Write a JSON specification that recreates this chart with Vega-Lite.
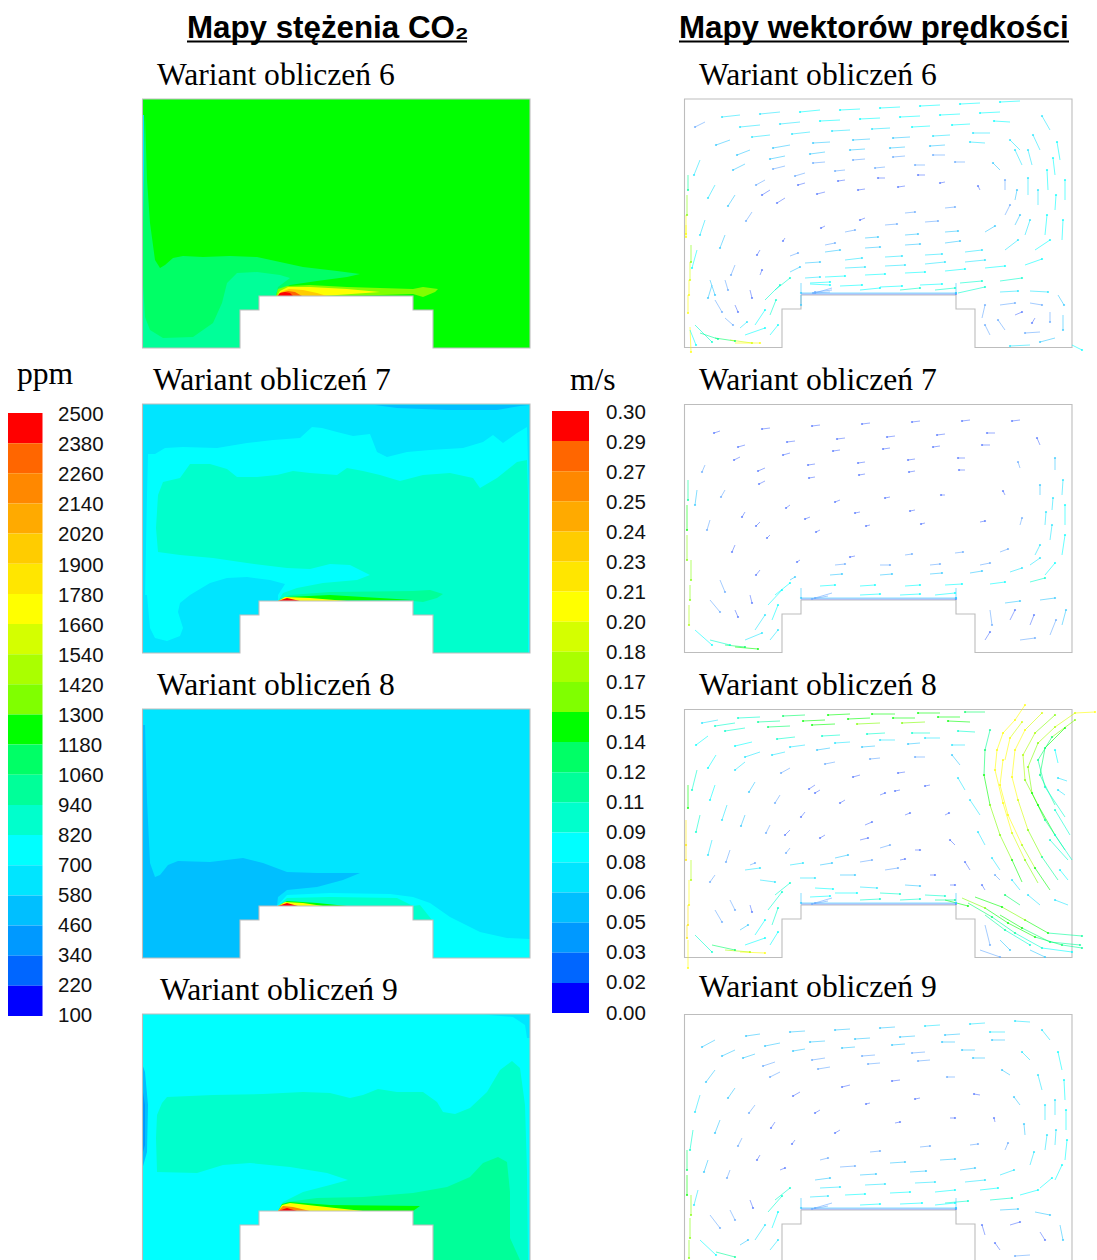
{
"$schema":"https://vega.github.io/schema/vega-lite/v6.json",
"width":1097,"height":1260,"autosize":"none","padding":0,"background":"white",
"config":{"view":{"stroke":null}},
"datasets":{
"polys":[
{"s":"6bg","ppm":1240,"x":[142.5,530,530,433,433,413,413,259,259,240,240,142.5],"y":[99,99,348,348,310,310,296,296,310,310,348,348]},
{"s":"6edge","ppm":640,"x":[142.5,144,145,146,142.5],"y":[115,115,180,250,250]},
{"s":"6a","ppm":1120,"x":[145,147,150,155,160,165,173,183,203,230,257,280,303,337,360,347,317,290,275,259,259,240,240,142.5,142.5],"y":[115,180,223,260,268,265,258,256,257,256,257,262,267,271,274,277,281,285,293,296,310,310,348,348,250]},
{"s":"6b","ppm":1000,"x":[142.5,145,150,163,193,213,222,227,237,257,280,290,278,276,259,259,240,240,142.5],"y":[277,317,330,338,337,323,303,283,273,272,275,278,287,296,296,310,310,348,348]},
{"s":"6c","ppm":1360,"x":[276,278,287,310,347,413,423,438,435,423,413,380,330],"y":[296,289,286,285,287,289,287,289,292,297,294,295,296]},
{"s":"6d","ppm":1720,"x":[277,280,288,310,347,380,337,317],"y":[296,291,287,287,289,292,295,296]},
{"s":"6e","ppm":1960,"x":[277,281,289,303,317,327],"y":[296,292,289,290,293,296]},
{"s":"6f","ppm":2320,"x":[277,280,288,295,302],"y":[296,293,291,292,296]},
{"s":"6g","ppm":2440,"x":[278,280,285,290,293],"y":[296,293,292,293,296]},
{"s":"7bg","ppm":640,"x":[142.5,530,530,433,433,413,413,259,259,240,240,142.5],"y":[404,404,653,653,615,615,601,601,615,615,653,653]},
{"s":"7top","ppm":520,"x":[375,397,447,497,520,530],"y":[405,408,410,410,406,405]},
{"s":"7a","ppm":760,"x":[144,147,148,155,165,183,217,247,273,300,312,322,337,353,370,377,387,407,430,463,483,493,503,517,527,529,529,433,433,413,413,259,259,240,240],"y":[653,495,454,454,448,447,448,443,440,438,427,428,432,436,434,452,457,452,450,448,442,435,443,433,427,495,653,653,615,615,601,601,615,615,653]},
{"s":"7b","ppm":880,"x":[527,517,507,497,480,473,450,423,400,380,363,347,337,310,293,277,257,237,227,210,190,180,163,158,156,158,180,213,247,287,310,330,350,370,357,323,297,283,278,413,413,433,433,528,528],"y":[460,462,470,478,488,478,473,475,481,475,471,468,475,473,471,475,477,477,469,464,464,478,482,495,528,552,555,558,563,568,569,564,565,575,580,583,588,593,601,601,615,615,653,653,495]},
{"s":"7c","ppm":640,"x":[278,278,285,270,247,227,210,190,180,178,183,180,167,155,150,147,144,144,240,240,259,259],"y":[601,595,584,580,577,578,583,595,603,612,628,636,641,638,628,595,595,653,653,615,615,601]},
{"s":"7d","ppm":1000,"x":[280,290,330,413,430,443,437,423,413],"y":[599,595,592,591,590,594,598,602,601]},
{"s":"7e","ppm":1240,"x":[278,287,330,413],"y":[601,597,595,600]},
{"s":"7f","ppm":1720,"x":[278,285,310,347],"y":[601,597,598,601]},
{"s":"7g","ppm":2440,"x":[278,287,300],"y":[601,598,601]},
{"s":"8bg","ppm":640,"x":[142.5,530,530,433,433,413,413,259,259,240,240,142.5],"y":[709,709,958,958,920,920,906,906,920,920,958,958]},
{"s":"8a","ppm":520,"x":[142.5,145,147,150,155,160,168,178,210,243,263,287,317,360,343,317,287,278,277,259,259,240,240,142.5],"y":[725,725,800,863,877,875,865,861,862,858,863,872,873,873,880,887,890,897,906,906,920,920,958,958]},
{"s":"8b","ppm":760,"x":[277,287,330,390,413,430,450,480,507,530,530,433,433,413,413],"y":[906,895,893,894,897,903,917,932,938,939,958,958,920,920,906]},
{"s":"8c","ppm":880,"x":[413,420,432,413],"y":[906,905,920,920]},
{"s":"8d","ppm":880,"x":[278,287,330,397,413],"y":[906,898,897,898,906]},
{"s":"8e","ppm":1240,"x":[278,287,317,347],"y":[906,901,903,906]},
{"s":"8f","ppm":1720,"x":[278,285,303,323],"y":[906,902,903,906]},
{"s":"8g","ppm":2440,"x":[278,287,298],"y":[906,903,906]},
{"s":"9bg","ppm":760,"x":[142.5,530,530,433,433,413,413,259,259,240,240,142.5],"y":[1014,1014,1263,1263,1225,1225,1211,1211,1225,1225,1263,1263]},
{"s":"9c","ppm":640,"x":[483,513,525,527,530,530],"y":[1014.5,1017,1025,1038,1038,1015]},
{"s":"9l","ppm":520,"x":[142.5,145,148,147,142.5],"y":[1065,1072,1105,1152,1168]},
{"s":"9m","ppm":400,"x":[143,145,145,143],"y":[1092,1105,1145,1152]},
{"s":"9a","ppm":880,"x":[167,213,263,303,330,350,363,378,397,423,437,443,455,470,487,500,512,520,525,527,528,433,433,413,413,278,283,303,330,348,327,290,250,223,197,157,156,157,162],"y":[1097,1095,1094,1092,1093,1098,1095,1089,1092,1092,1102,1112,1114,1108,1092,1070,1061,1068,1105,1172,1260,1260,1225,1225,1211,1211,1202,1192,1185,1180,1173,1167,1163,1165,1173,1172,1138,1115,1103]},
{"s":"9b","ppm":1000,"x":[278,287,317,363,413,447,470,483,498,507,510,510,520,433,433,413,413],"y":[1211,1202,1198,1197,1193,1187,1177,1163,1157,1162,1192,1238,1260,1260,1225,1225,1211]},
{"s":"9d","ppm":1240,"x":[278,282,290,330,420,413],"y":[1211,1204,1202,1205,1206,1211]},
{"s":"9e","ppm":1720,"x":[278,282,290,317,363],"y":[1211,1205,1203,1206,1211]},
{"s":"9f","ppm":2200,"x":[278,283,293,310],"y":[1211,1206,1207,1211]},
{"s":"9g","ppm":2440,"x":[278,287,297],"y":[1211,1208,1211]}
],
"outlines":[
{"s":"c6","x":[142.5,530,530,433,433,413,413,259,259,240,240,142.5],"y":[99,99,348,348,310,310,296,296,310,310,348,348]},
{"s":"c7","x":[142.5,530,530,433,433,413,413,259,259,240,240,142.5],"y":[404,404,653,653,615,615,601,601,615,615,653,653]},
{"s":"c8","x":[142.5,530,530,433,433,413,413,259,259,240,240,142.5],"y":[709,709,958,958,920,920,906,906,920,920,958,958]},
{"s":"c9","x":[142.5,530,530,433,433,413,413,259,259,240,240,142.5],"y":[1014,1014,1263,1263,1225,1225,1211,1211,1225,1225,1263,1263]},
{"s":"v6","x":[684.5,1072,1072,975,975,956,956,801,801,782,782,684.5],"y":[99,99,347.5,347.5,309,309,295,295,309,309,347.5,347.5]},
{"s":"v7","x":[684.5,1072,1072,975,975,956,956,801,801,782,782,684.5],"y":[404.5,404.5,652.5,652.5,614,614,600,600,614,614,652.5,652.5]},
{"s":"v8","x":[684.5,1072,1072,975,975,956,956,801,801,782,782,684.5],"y":[709.5,709.5,957.5,957.5,919,919,905,905,919,919,957.5,957.5]},
{"s":"v9","x":[684.5,1072,1072,975,975,956,956,801,801,782,782,684.5],"y":[1014.5,1014.5,1263,1263,1224,1224,1210,1210,1224,1224,1263,1263]}
],
"bar1":[
{"lo":2380,"y":413,"y2":443.2},{"lo":2260,"y":443.2,"y2":473.3},{"lo":2140,"y":473.3,"y2":503.5},{"lo":2020,"y":503.5,"y2":533.6},{"lo":1900,"y":533.6,"y2":563.8},{"lo":1780,"y":563.8,"y2":593.9},{"lo":1660,"y":593.9,"y2":624},{"lo":1540,"y":624,"y2":654.2},{"lo":1420,"y":654.2,"y2":684.3},{"lo":1300,"y":684.3,"y2":714.5},{"lo":1180,"y":714.5,"y2":744.6},{"lo":1060,"y":744.6,"y2":774.8},{"lo":940,"y":774.8,"y2":805},{"lo":820,"y":805,"y2":835.1},{"lo":700,"y":835.1,"y2":865.3},{"lo":580,"y":865.3,"y2":895.4},{"lo":460,"y":895.4,"y2":925.5},{"lo":340,"y":925.5,"y2":955.7},{"lo":220,"y":955.7,"y2":985.8},{"lo":100,"y":985.8,"y2":1016}
],
"bar2":[
{"lo":2380,"y":411,"y2":441.1},{"lo":2260,"y":441.1,"y2":471.2},{"lo":2140,"y":471.2,"y2":501.3},{"lo":2020,"y":501.3,"y2":531.4},{"lo":1900,"y":531.4,"y2":561.5},{"lo":1780,"y":561.5,"y2":591.6},{"lo":1660,"y":591.6,"y2":621.7},{"lo":1540,"y":621.7,"y2":651.8},{"lo":1420,"y":651.8,"y2":681.9},{"lo":1300,"y":681.9,"y2":712},{"lo":1180,"y":712,"y2":742.1},{"lo":1060,"y":742.1,"y2":772.2},{"lo":940,"y":772.2,"y2":802.3},{"lo":820,"y":802.3,"y2":832.4},{"lo":700,"y":832.4,"y2":862.5},{"lo":580,"y":862.5,"y2":892.6},{"lo":460,"y":892.6,"y2":922.7},{"lo":340,"y":922.7,"y2":952.8},{"lo":220,"y":952.8,"y2":982.9},{"lo":100,"y":982.9,"y2":1013}
],
"vec":[
{"x":1000,"y":112,"x2":980,"y2":113,"s":0.08},{"x":960,"y":114,"x2":940,"y2":115,"s":0.08},{"x":920,"y":116,"x2":900,"y2":117,"s":0.08},{"x":880,"y":118,"x2":860,"y2":119,"s":0.08},{"x":840,"y":120,"x2":820,"y2":121,"s":0.08},{"x":800,"y":122,"x2":780,"y2":124,"s":0.06},{"x":760,"y":125,"x2":740,"y2":127,"s":0.06},
{"x":990,"y":133,"x2":973,"y2":133,"s":0.06},{"x":950,"y":135,"x2":933,"y2":136,"s":0.06},{"x":910,"y":137,"x2":893,"y2":138,"s":0.05},{"x":870,"y":139,"x2":853,"y2":140,"s":0.05},{"x":830,"y":142,"x2":813,"y2":143,"s":0.05},{"x":790,"y":145,"x2":773,"y2":148,"s":0.05},{"x":750,"y":150,"x2":737,"y2":155,"s":0.05},
{"x":945,"y":155,"x2":933,"y2":155,"s":0.03},{"x":905,"y":156,"x2":893,"y2":157,"s":0.03},{"x":865,"y":159,"x2":853,"y2":160,"s":0.03},{"x":825,"y":162,"x2":813,"y2":163,"s":0.03},{"x":785,"y":166,"x2":773,"y2":169,"s":0.03},
{"x":925,"y":175,"x2":918,"y2":175,"s":0.02},{"x":885,"y":178,"x2":878,"y2":178,"s":0.02},{"x":845,"y":180,"x2":838,"y2":181,"s":0.02},{"x":805,"y":183,"x2":798,"y2":185,"s":0.02},{"x":770,"y":190,"x2":762,"y2":195,"s":0.02},
{"x":925,"y":222,"x2":938,"y2":221,"s":0.03},{"x":885,"y":225,"x2":897,"y2":224,"s":0.03},{"x":845,"y":232,"x2":855,"y2":230,"s":0.03},{"x":945,"y":243,"x2":960,"y2":241,"s":0.05},{"x":905,"y":245,"x2":920,"y2":244,"s":0.05},{"x":865,"y":248,"x2":880,"y2":247,"s":0.05},{"x":825,"y":252,"x2":840,"y2":250,"s":0.05},
{"x":965,"y":262,"x2":985,"y2":260,"s":0.06},{"x":925,"y":264,"x2":945,"y2":262,"s":0.06},{"x":885,"y":266,"x2":905,"y2":265,"s":0.06},{"x":845,"y":268,"x2":865,"y2":267,"s":0.06},
{"x":1035,"y":250,"x2":1050,"y2":240,"s":0.08},{"x":1055,"y":210,"x2":1056,"y2":195,"s":0.08},{"x":1055,"y":175,"x2":1053,"y2":158,"s":0.08},{"x":1038,"y":205,"x2":1038,"y2":190,"s":0.06},{"x":1032,"y":165,"x2":1028,"y2":150,"s":0.06},{"x":1015,"y":200,"x2":1017,"y2":190,"s":0.05},{"x":1015,"y":225,"x2":1020,"y2":215,"s":0.05},
{"x":995,"y":433,"x2":987,"y2":433,"s":0.02},{"x":945,"y":434,"x2":937,"y2":435,"s":0.02},{"x":895,"y":436,"x2":887,"y2":437,"s":0.02},{"x":845,"y":438,"x2":837,"y2":439,"s":0.02},{"x":795,"y":441,"x2":787,"y2":442,"s":0.02},{"x":745,"y":445,"x2":738,"y2":447,"s":0.02},{"x":965,"y":458,"x2":958,"y2":458,"s":0.02},{"x":915,"y":459,"x2":908,"y2":460,"s":0.02},{"x":865,"y":462,"x2":858,"y2":463,"s":0.02},{"x":815,"y":464,"x2":808,"y2":465,"s":0.02},{"x":765,"y":468,"x2":758,"y2":471,"s":0.02},{"x":915,"y":510,"x2":910,"y2":511,"s":0.02},{"x":860,"y":512,"x2":855,"y2":513,"s":0.02},{"x":810,"y":517,"x2":805,"y2":519,"s":0.02},{"x":760,"y":522,"x2":756,"y2":526,"s":0.02},{"x":980,"y":565,"x2":990,"y2":563,"s":0.03},{"x":930,"y":565,"x2":940,"y2":564,"s":0.03},{"x":880,"y":565,"x2":890,"y2":565,"s":0.03},{"x":835,"y":565,"x2":845,"y2":564,"s":0.03},{"x":1030,"y":565,"x2":1040,"y2":558,"s":0.06},{"x":1052,"y":510,"x2":1053,"y2":498,"s":0.06},{"x":1050,"y":540,"x2":1052,"y2":525,"s":0.06},
{"x":1005,"y":1032,"x2":990,"y2":1032,"s":0.06},{"x":960,"y":1034,"x2":945,"y2":1035,"s":0.05},{"x":915,"y":1036,"x2":900,"y2":1037,"s":0.05},{"x":870,"y":1038,"x2":855,"y2":1039,"s":0.05},{"x":825,"y":1041,"x2":810,"y2":1042,"s":0.05},{"x":780,"y":1043,"x2":765,"y2":1046,"s":0.05},{"x":735,"y":1050,"x2":722,"y2":1056,"s":0.05},{"x":975,"y":1050,"x2":962,"y2":1050,"s":0.05},{"x":925,"y":1052,"x2":912,"y2":1053,"s":0.03},{"x":875,"y":1055,"x2":862,"y2":1056,"s":0.03},{"x":825,"y":1058,"x2":812,"y2":1060,"s":0.03},{"x":775,"y":1062,"x2":763,"y2":1066,"s":0.03},{"x":940,"y":1160,"x2":955,"y2":1159,"s":0.05},{"x":890,"y":1163,"x2":905,"y2":1162,"s":0.05},{"x":840,"y":1167,"x2":855,"y2":1166,"s":0.03},{"x":965,"y":1182,"x2":985,"y2":1180,"s":0.06},{"x":915,"y":1183,"x2":935,"y2":1182,"s":0.06},{"x":865,"y":1185,"x2":885,"y2":1184,"s":0.06},{"x":820,"y":1188,"x2":840,"y2":1187,"s":0.06},{"x":1055,"y":1115,"x2":1055,"y2":1100,"s":0.06},{"x":1055,"y":1145,"x2":1056,"y2":1130,"s":0.06},
{"x":1050,"y":890,"x2":1035,"y2":868,"s":0.14},{"x":1035,"y":868,"x2":1022,"y2":845,"s":0.17},{"x":1022,"y":845,"x2":1008,"y2":815,"s":0.2},{"x":1008,"y":815,"x2":1000,"y2":785,"s":0.2},{"x":1000,"y":785,"x2":1003,"y2":760,"s":0.2},{"x":1005,"y":760,"x2":1010,"y2":738,"s":0.2},{"x":1010,"y":738,"x2":1022,"y2":722,"s":0.18},
{"x":1072,"y":860,"x2":1055,"y2":835,"s":0.09},{"x":1055,"y":835,"x2":1038,"y2":805,"s":0.14},{"x":1038,"y":805,"x2":1025,"y2":780,"s":0.15},{"x":1025,"y":780,"x2":1023,"y2":755,"s":0.17},{"x":1023,"y":755,"x2":1035,"y2":733,"s":0.17},{"x":1035,"y":733,"x2":1055,"y2":715,"s":0.15},
{"x":1070,"y":835,"x2":1055,"y2":810,"s":0.09},{"x":1055,"y":805,"x2":1040,"y2":775,"s":0.11},{"x":1040,"y":775,"x2":1045,"y2":748,"s":0.12},{"x":1045,"y":748,"x2":1065,"y2":728,"s":0.14},
{"x":1022,"y":882,"x2":1012,"y2":860,"s":0.14},{"x":1012,"y":860,"x2":1000,"y2":835,"s":0.15},{"x":1000,"y":835,"x2":990,"y2":805,"s":0.15},{"x":990,"y":805,"x2":984,"y2":775,"s":0.14},{"x":984,"y":775,"x2":985,"y2":750,"s":0.12},{"x":985,"y":750,"x2":990,"y2":730,"s":0.11},
{"x":1020,"y":905,"x2":1005,"y2":895,"s":0.12},{"x":945,"y":900,"x2":968,"y2":906,"s":0.14},{"x":1000,"y":915,"x2":1022,"y2":928,"s":0.14},{"x":1022,"y":928,"x2":1050,"y2":942,"s":0.12},{"x":1050,"y":942,"x2":1080,"y2":945,"s":0.11},{"x":985,"y":915,"x2":1005,"y2":930,"s":0.11},{"x":1005,"y":930,"x2":1030,"y2":945,"s":0.09},
{"x":960,"y":717,"x2":938,"y2":717,"s":0.14},{"x":915,"y":718,"x2":893,"y2":718,"s":0.14},{"x":870,"y":718,"x2":848,"y2":719,"s":0.14},{"x":825,"y":720,"x2":803,"y2":721,"s":0.14},{"x":780,"y":721,"x2":758,"y2":722,"s":0.11},{"x":735,"y":723,"x2":715,"y2":726,"s":0.09},{"x":940,"y":738,"x2":925,"y2":738,"s":0.06},{"x":895,"y":740,"x2":880,"y2":740,"s":0.06},{"x":850,"y":742,"x2":835,"y2":743,"s":0.06},{"x":805,"y":745,"x2":790,"y2":747,"s":0.06},{"x":760,"y":752,"x2":745,"y2":757,"s":0.06},
{"x":900,"y":790,"x2":895,"y2":791,"s":0.02},{"x":820,"y":790,"x2":815,"y2":793,"s":0.02},{"x":790,"y":830,"x2":785,"y2":835,"s":0.02},{"x":860,"y":840,"x2":868,"y2":838,"s":0.02},{"x":900,"y":860,"x2":905,"y2":859,"s":0.02},{"x":860,"y":862,"x2":872,"y2":860,"s":0.03},{"x":820,"y":865,"x2":832,"y2":863,"s":0.05},
{"x":1020,"y":101,"x2":1000,"y2":102,"s":0.08},{"x":980,"y":103,"x2":960,"y2":104,"s":0.08},{"x":940,"y":105,"x2":920,"y2":106,"s":0.08},{"x":900,"y":107,"x2":880,"y2":108,"s":0.08},{"x":860,"y":109,"x2":840,"y2":110,"s":0.08},{"x":820,"y":110,"x2":800,"y2":112,"s":0.08},{"x":780,"y":112,"x2":760,"y2":114,"s":0.06},{"x":740,"y":115,"x2":722,"y2":117,"s":0.06},{"x":705,"y":122,"x2":695,"y2":127,"s":0.03},
{"x":1010,"y":122,"x2":994,"y2":121,"s":0.08},{"x":970,"y":124,"x2":952,"y2":125,"s":0.08},{"x":930,"y":126,"x2":912,"y2":127,"s":0.08},{"x":890,"y":128,"x2":872,"y2":129,"s":0.06},{"x":850,"y":130,"x2":832,"y2":131,"s":0.06},{"x":810,"y":132,"x2":792,"y2":134,"s":0.06},{"x":770,"y":135,"x2":752,"y2":137,"s":0.06},{"x":730,"y":140,"x2":716,"y2":145,"s":0.05},{"x":700,"y":160,"x2":694,"y2":175,"s":0.06},
{"x":1020,"y":150,"x2":1010,"y2":140,"s":0.06},{"x":985,"y":143,"x2":970,"y2":142,"s":0.06},{"x":945,"y":145,"x2":930,"y2":146,"s":0.05},{"x":905,"y":147,"x2":890,"y2":148,"s":0.05},{"x":865,"y":149,"x2":850,"y2":150,"s":0.05},{"x":825,"y":152,"x2":810,"y2":154,"s":0.05},{"x":785,"y":156,"x2":770,"y2":159,"s":0.05},{"x":745,"y":164,"x2":733,"y2":170,"s":0.05},{"x":715,"y":185,"x2":708,"y2":198,"s":0.06},
{"x":1000,"y":170,"x2":993,"y2":163,"s":0.05},{"x":965,"y":162,"x2":955,"y2":162,"s":0.03},{"x":925,"y":165,"x2":915,"y2":165,"s":0.03},{"x":885,"y":167,"x2":875,"y2":168,"s":0.03},{"x":845,"y":170,"x2":835,"y2":171,"s":0.03},{"x":805,"y":173,"x2":795,"y2":176,"s":0.03},{"x":765,"y":180,"x2":756,"y2":185,"s":0.03},{"x":735,"y":195,"x2":728,"y2":206,"s":0.05},{"x":705,"y":220,"x2":700,"y2":235,"s":0.06},
{"x":980,"y":190,"x2":978,"y2":186,"s":0.02},{"x":945,"y":182,"x2":940,"y2":183,"s":0.02},{"x":905,"y":186,"x2":898,"y2":187,"s":0.02},{"x":865,"y":189,"x2":858,"y2":190,"s":0.02},{"x":825,"y":192,"x2":817,"y2":194,"s":0.02},{"x":785,"y":198,"x2":777,"y2":203,"s":0.02},{"x":752,"y":212,"x2":746,"y2":221,"s":0.03},{"x":725,"y":235,"x2":720,"y2":248,"s":0.05},{"x":697,"y":250,"x2":692,"y2":268,"s":0.08},
{"x":945,"y":208,"x2":955,"y2":207,"s":0.03},{"x":905,"y":213,"x2":915,"y2":212,"s":0.03},{"x":865,"y":218,"x2":860,"y2":220,"s":0.02},{"x":825,"y":226,"x2":821,"y2":228,"s":0.02},{"x":785,"y":238,"x2":783,"y2":241,"s":0.02},{"x":760,"y":250,"x2":757,"y2":255,"s":0.02},{"x":735,"y":265,"x2":731,"y2":275,"s":0.03},{"x":712,"y":285,"x2":708,"y2":298,"s":0.05},
{"x":985,"y":232,"x2":995,"y2":226,"s":0.05},{"x":945,"y":232,"x2":958,"y2":231,"s":0.05},{"x":905,"y":235,"x2":918,"y2":234,"s":0.05},{"x":865,"y":238,"x2":878,"y2":237,"s":0.05},{"x":825,"y":245,"x2":835,"y2":243,"s":0.03},{"x":790,"y":256,"x2":798,"y2":253,"s":0.03},{"x":760,"y":275,"x2":762,"y2":270,"s":0.02},
{"x":1005,"y":250,"x2":1018,"y2":240,"s":0.06},{"x":965,"y":252,"x2":982,"y2":250,"s":0.06},{"x":925,"y":255,"x2":942,"y2":254,"s":0.06},{"x":885,"y":257,"x2":902,"y2":256,"s":0.06},{"x":845,"y":260,"x2":862,"y2":258,"s":0.06},{"x":805,"y":263,"x2":820,"y2":262,"s":0.05},{"x":790,"y":272,"x2":800,"y2":267,"s":0.05},
{"x":1025,"y":265,"x2":1042,"y2":259,"s":0.08},{"x":985,"y":268,"x2":1005,"y2":266,"s":0.08},{"x":945,"y":271,"x2":965,"y2":269,"s":0.08},{"x":905,"y":273,"x2":925,"y2":272,"s":0.08},{"x":865,"y":275,"x2":885,"y2":274,"s":0.08},{"x":825,"y":277,"x2":845,"y2":276,"s":0.08},{"x":805,"y":278,"x2":820,"y2":277,"s":0.06},
{"x":1000,"y":281,"x2":1022,"y2":278,"s":0.09},{"x":960,"y":283,"x2":982,"y2":281,"s":0.09},{"x":920,"y":285,"x2":942,"y2":284,"s":0.08},{"x":880,"y":287,"x2":902,"y2":286,"s":0.08},{"x":840,"y":286,"x2":862,"y2":285,"s":0.08},{"x":810,"y":284,"x2":830,"y2":285,"s":0.08},{"x":958,"y":293,"x2":985,"y2":287,"s":0.09},
{"x":1062,"y":240,"x2":1063,"y2":220,"s":0.08},{"x":1065,"y":200,"x2":1065,"y2":180,"s":0.08},{"x":1060,"y":160,"x2":1057,"y2":142,"s":0.08},{"x":1050,"y":130,"x2":1042,"y2":116,"s":0.06},{"x":1045,"y":235,"x2":1047,"y2":215,"s":0.08},{"x":1048,"y":190,"x2":1047,"y2":170,"s":0.08},{"x":1040,"y":150,"x2":1033,"y2":135,"s":0.06},{"x":1025,"y":235,"x2":1030,"y2":220,"s":0.06},{"x":1028,"y":195,"x2":1028,"y2":178,"s":0.06},{"x":1022,"y":165,"x2":1015,"y2":150,"s":0.06},{"x":1005,"y":215,"x2":1010,"y2":205,"s":0.03},{"x":1005,"y":190,"x2":1005,"y2":180,"s":0.03},
{"x":688,"y":175,"x2":688,"y2":190,"s":0.11},{"x":687,"y":195,"x2":687,"y2":215,"s":0.15},{"x":686,"y":215,"x2":686,"y2":234,"s":0.2},{"x":686,"y":225,"x2":686,"y2":237,"s":0.2},{"x":691,"y":245,"x2":691,"y2":262,"s":0.15},{"x":690,"y":262,"x2":690,"y2":280,"s":0.18},{"x":689,"y":280,"x2":689,"y2":295,"s":0.2},{"x":688,"y":295,"x2":688,"y2":313,"s":0.2},{"x":690,"y":327,"x2":691,"y2":352,"s":0.2},{"x":690,"y":330,"x2":696,"y2":345,"s":0.08},
{"x":695,"y":325,"x2":712,"y2":342,"s":0.09},{"x":700,"y":333,"x2":718,"y2":339,"s":0.11},{"x":715,"y":338,"x2":735,"y2":341,"s":0.12},{"x":730,"y":340,"x2":752,"y2":343,"s":0.18},{"x":735,"y":343,"x2":760,"y2":343,"s":0.2},
{"x":775,"y":290,"x2":790,"y2":278,"s":0.09},{"x":765,"y":300,"x2":780,"y2":285,"s":0.09},{"x":770,"y":315,"x2":776,"y2":300,"s":0.09},{"x":755,"y":325,"x2":765,"y2":310,"s":0.08},{"x":740,"y":328,"x2":747,"y2":322,"s":0.06},{"x":770,"y":335,"x2":778,"y2":325,"s":0.08},{"x":745,"y":335,"x2":765,"y2":328,"s":0.08},{"x":725,"y":318,"x2":733,"y2":325,"s":0.03},{"x":715,"y":300,"x2":722,"y2":312,"s":0.03},{"x":710,"y":280,"x2":715,"y2":295,"s":0.05},{"x":725,"y":280,"x2":728,"y2":290,"s":0.03},{"x":750,"y":290,"x2":752,"y2":298,"s":0.02},{"x":735,"y":305,"x2":738,"y2":312,"s":0.02},
{"x":801,"y":294,"x2":956,"y2":294,"s":0.02},{"x":801,"y":293,"x2":956,"y2":293,"s":0.05},{"x":832,"y":288,"x2":815,"y2":293,"s":0.03},{"x":832,"y":290,"x2":815,"y2":292,"s":0.03},{"x":830,"y":292,"x2":813,"y2":293,"s":0.03},{"x":801,"y":283,"x2":801,"y2":293,"s":0.05},{"x":956,"y":283,"x2":956,"y2":293,"s":0.05},{"x":801,"y":295,"x2":801,"y2":305,"s":0.05},{"x":860,"y":290,"x2":880,"y2":288,"s":0.08},{"x":900,"y":290,"x2":920,"y2":288,"s":0.09},{"x":935,"y":290,"x2":955,"y2":288,"s":0.09},{"x":810,"y":283,"x2":830,"y2":282,"s":0.08},
{"x":1000,"y":292,"x2":1018,"y2":291,"s":0.06},{"x":1030,"y":291,"x2":1048,"y2":292,"s":0.06},{"x":1058,"y":295,"x2":1064,"y2":305,"s":0.05},{"x":1063,"y":315,"x2":1063,"y2":330,"s":0.05},{"x":1055,"y":338,"x2":1040,"y2":342,"s":0.05},{"x":1030,"y":345,"x2":1010,"y2":346,"s":0.06},{"x":990,"y":335,"x2":985,"y2":325,"s":0.03},{"x":982,"y":318,"x2":985,"y2":305,"s":0.03},{"x":1000,"y":305,"x2":1015,"y2":303,"s":0.03},{"x":1030,"y":303,"x2":1042,"y2":305,"s":0.03},{"x":1050,"y":312,"x2":1050,"y2":322,"s":0.03},{"x":1040,"y":332,"x2":1025,"y2":333,"s":0.03},{"x":1005,"y":330,"x2":998,"y2":320,"s":0.03},{"x":1015,"y":315,"x2":1022,"y2":312,"s":0.02},{"x":1035,"y":318,"x2":1032,"y2":323,"s":0.02},{"x":1072,"y":345,"x2":1082,"y2":350,"s":0.08},

{"x":1020,"y":420,"x2":1012,"y2":421,"s":0.02},{"x":970,"y":420,"x2":962,"y2":421,"s":0.02},{"x":920,"y":421,"x2":912,"y2":422,"s":0.02},{"x":870,"y":423,"x2":862,"y2":424,"s":0.02},{"x":820,"y":425,"x2":812,"y2":426,"s":0.02},{"x":770,"y":428,"x2":762,"y2":429,"s":0.02},{"x":720,"y":431,"x2":714,"y2":433,"s":0.02},
{"x":1040,"y":445,"x2":1037,"y2":438,"s":0.02},{"x":990,"y":445,"x2":982,"y2":445,"s":0.02},{"x":940,"y":446,"x2":933,"y2":447,"s":0.02},{"x":890,"y":448,"x2":883,"y2":449,"s":0.02},{"x":840,"y":450,"x2":833,"y2":451,"s":0.02},{"x":790,"y":453,"x2":783,"y2":455,"s":0.02},{"x":740,"y":457,"x2":734,"y2":460,"s":0.02},{"x":705,"y":465,"x2":702,"y2":472,"s":0.03},
{"x":1055,"y":470,"x2":1055,"y2":458,"s":0.05},{"x":1020,"y":468,"x2":1018,"y2":462,"s":0.03},{"x":965,"y":470,"x2":959,"y2":470,"s":0.02},{"x":915,"y":471,"x2":909,"y2":472,"s":0.02},{"x":865,"y":474,"x2":859,"y2":475,"s":0.02},{"x":815,"y":477,"x2":809,"y2":478,"s":0.02},{"x":765,"y":481,"x2":759,"y2":484,"s":0.02},{"x":725,"y":490,"x2":721,"y2":497,"s":0.03},{"x":697,"y":490,"x2":695,"y2":505,"s":0.05},
{"x":1062,"y":495,"x2":1063,"y2":480,"s":0.06},{"x":1040,"y":495,"x2":1040,"y2":485,"s":0.05},{"x":1005,"y":495,"x2":1003,"y2":491,"s":0.02},{"x":945,"y":495,"x2":941,"y2":495,"s":0.02},{"x":890,"y":497,"x2":885,"y2":498,"s":0.02},{"x":840,"y":500,"x2":835,"y2":502,"s":0.02},{"x":790,"y":505,"x2":786,"y2":508,"s":0.02},{"x":745,"y":512,"x2":742,"y2":517,"s":0.02},{"x":710,"y":520,"x2":707,"y2":530,"s":0.03},
{"x":1065,"y":525,"x2":1065,"y2":505,"s":0.08},{"x":1045,"y":525,"x2":1046,"y2":512,"s":0.06},{"x":1020,"y":525,"x2":1022,"y2":518,"s":0.03},{"x":980,"y":522,"x2":985,"y2":521,"s":0.02},{"x":925,"y":523,"x2":921,"y2":524,"s":0.02},{"x":870,"y":525,"x2":866,"y2":526,"s":0.02},{"x":820,"y":530,"x2":816,"y2":532,"s":0.02},{"x":770,"y":535,"x2":767,"y2":538,"s":0.02},{"x":735,"y":545,"x2":732,"y2":552,"s":0.02},
{"x":1062,"y":555,"x2":1065,"y2":535,"s":0.08},{"x":1035,"y":555,"x2":1040,"y2":545,"s":0.06},{"x":1000,"y":552,"x2":1008,"y2":549,"s":0.03},{"x":955,"y":553,"x2":963,"y2":552,"s":0.03},{"x":905,"y":555,"x2":912,"y2":554,"s":0.03},{"x":855,"y":556,"x2":850,"y2":557,"s":0.02},{"x":800,"y":560,"x2":797,"y2":562,"s":0.02},{"x":760,"y":570,"x2":756,"y2":575,"s":0.02},
{"x":1045,"y":575,"x2":1055,"y2":563,"s":0.08},{"x":1010,"y":572,"x2":1022,"y2":568,"s":0.06},{"x":970,"y":573,"x2":982,"y2":571,"s":0.05},{"x":930,"y":574,"x2":942,"y2":573,"s":0.05},{"x":880,"y":575,"x2":892,"y2":574,"s":0.05},{"x":830,"y":575,"x2":842,"y2":574,"s":0.05},{"x":790,"y":580,"x2":795,"y2":577,"s":0.05},
{"x":1030,"y":582,"x2":1045,"y2":578,"s":0.09},{"x":990,"y":584,"x2":1005,"y2":582,"s":0.08},{"x":945,"y":585,"x2":962,"y2":584,"s":0.08},{"x":905,"y":586,"x2":920,"y2":585,"s":0.08},{"x":860,"y":586,"x2":875,"y2":585,"s":0.08},{"x":820,"y":586,"x2":835,"y2":585,"s":0.08},
{"x":688,"y":480,"x2":688,"y2":500,"s":0.11},{"x":687,"y":505,"x2":687,"y2":530,"s":0.14},{"x":687,"y":535,"x2":687,"y2":560,"s":0.15},{"x":691,"y":560,"x2":691,"y2":580,"s":0.15},{"x":690,"y":585,"x2":690,"y2":600,"s":0.15},{"x":689,"y":605,"x2":689,"y2":625,"s":0.17},
{"x":695,"y":630,"x2":712,"y2":645,"s":0.08},{"x":710,"y":640,"x2":730,"y2":645,"s":0.09},{"x":725,"y":645,"x2":745,"y2":647,"s":0.12},{"x":735,"y":647,"x2":758,"y2":649,"s":0.14},
{"x":775,"y":595,"x2":790,"y2":583,"s":0.08},{"x":768,"y":605,"x2":782,"y2":590,"s":0.08},{"x":772,"y":620,"x2":778,"y2":605,"s":0.08},{"x":755,"y":630,"x2":765,"y2":615,"s":0.06},{"x":770,"y":640,"x2":778,"y2":630,"s":0.06},{"x":745,"y":640,"x2":762,"y2":633,"s":0.06},{"x":710,"y":600,"x2":720,"y2":612,"s":0.03},{"x":735,"y":610,"x2":738,"y2":617,"s":0.02},{"x":720,"y":580,"x2":725,"y2":592,"s":0.03},{"x":750,"y":595,"x2":752,"y2":603,"s":0.02},
{"x":801,"y":599,"x2":956,"y2":599,"s":0.02},{"x":801,"y":598,"x2":956,"y2":598,"s":0.05},{"x":832,"y":593,"x2":815,"y2":598,"s":0.03},{"x":828,"y":596,"x2":812,"y2":599,"s":0.03},{"x":860,"y":595,"x2":880,"y2":594,"s":0.08},{"x":900,"y":595,"x2":920,"y2":594,"s":0.08},{"x":935,"y":595,"x2":955,"y2":593,"s":0.08},{"x":801,"y":588,"x2":801,"y2":598,"s":0.05},{"x":956,"y":588,"x2":956,"y2":598,"s":0.05},
{"x":990,"y":610,"x2":992,"y2":625,"s":0.03},{"x":985,"y":640,"x2":990,"y2":632,"s":0.02},{"x":1010,"y":620,"x2":1015,"y2":610,"s":0.02},{"x":1030,"y":625,"x2":1034,"y2":615,"s":0.02},{"x":1050,"y":635,"x2":1056,"y2":620,"s":0.03},{"x":1062,"y":625,"x2":1066,"y2":610,"s":0.05},{"x":1040,"y":600,"x2":1055,"y2":598,"s":0.05},{"x":1005,"y":603,"x2":1020,"y2":601,"s":0.05},{"x":1020,"y":640,"x2":1035,"y2":638,"s":0.03},

{"x":985,"y":712,"x2":965,"y2":712,"s":0.12},{"x":940,"y":713,"x2":918,"y2":713,"s":0.14},{"x":895,"y":714,"x2":872,"y2":714,"s":0.14},{"x":850,"y":714,"x2":828,"y2":715,"s":0.14},{"x":805,"y":715,"x2":783,"y2":716,"s":0.12},{"x":760,"y":717,"x2":738,"y2":718,"s":0.09},{"x":718,"y":720,"x2":702,"y2":723,"s":0.06},
{"x":970,"y":722,"x2":948,"y2":721,"s":0.14},{"x":925,"y":722,"x2":902,"y2":723,"s":0.15},{"x":880,"y":723,"x2":857,"y2":724,"s":0.15},{"x":835,"y":724,"x2":812,"y2":725,"s":0.14},{"x":790,"y":726,"x2":768,"y2":727,"s":0.12},{"x":745,"y":728,"x2":725,"y2":731,"s":0.09},{"x":708,"y":736,"x2":696,"y2":745,"s":0.08},
{"x":975,"y":732,"x2":958,"y2":731,"s":0.09},{"x":930,"y":733,"x2":912,"y2":733,"s":0.09},{"x":885,"y":733,"x2":867,"y2":734,"s":0.09},{"x":840,"y":735,"x2":822,"y2":736,"s":0.09},{"x":795,"y":737,"x2":777,"y2":739,"s":0.09},{"x":752,"y":742,"x2":735,"y2":746,"s":0.08},{"x":716,"y":755,"x2":708,"y2":768,"s":0.08},
{"x":965,"y":745,"x2":952,"y2":745,"s":0.06},{"x":920,"y":743,"x2":908,"y2":744,"s":0.05},{"x":875,"y":746,"x2":862,"y2":747,"s":0.05},{"x":830,"y":748,"x2":817,"y2":750,"s":0.05},{"x":785,"y":752,"x2":772,"y2":755,"s":0.06},{"x":745,"y":762,"x2":735,"y2":770,"s":0.06},{"x":715,"y":785,"x2":710,"y2":800,"s":0.08},{"x":697,"y":770,"x2":692,"y2":790,"s":0.09},
{"x":925,"y":757,"x2":915,"y2":757,"s":0.03},{"x":880,"y":758,"x2":870,"y2":759,"s":0.03},{"x":835,"y":762,"x2":825,"y2":764,"s":0.03},{"x":790,"y":768,"x2":781,"y2":773,"s":0.03},{"x":755,"y":782,"x2":749,"y2":792,"s":0.05},{"x":727,"y":805,"x2":722,"y2":820,"s":0.06},{"x":700,"y":815,"x2":696,"y2":832,"s":0.09},
{"x":960,"y":765,"x2":952,"y2":755,"s":0.05},{"x":905,"y":772,"x2":898,"y2":773,"s":0.02},{"x":860,"y":775,"x2":853,"y2":777,"s":0.02},{"x":815,"y":785,"x2":809,"y2":789,"s":0.02},{"x":780,"y":795,"x2":775,"y2":803,"s":0.03},{"x":745,"y":815,"x2":741,"y2":826,"s":0.05},{"x":712,"y":840,"x2":708,"y2":855,"s":0.06},
{"x":965,"y":790,"x2":958,"y2":778,"s":0.06},{"x":930,"y":785,"x2":925,"y2":786,"s":0.02},{"x":880,"y":795,"x2":885,"y2":793,"s":0.02},{"x":845,"y":800,"x2":840,"y2":803,"s":0.02},{"x":805,"y":812,"x2":801,"y2":817,"s":0.02},{"x":770,"y":825,"x2":766,"y2":833,"s":0.03},{"x":730,"y":850,"x2":726,"y2":862,"s":0.03},
{"x":980,"y":815,"x2":970,"y2":800,"s":0.06},{"x":945,"y":815,"x2":949,"y2":813,"s":0.02},{"x":905,"y":815,"x2":910,"y2":813,"s":0.02},{"x":865,"y":825,"x2":872,"y2":822,"s":0.02},{"x":825,"y":835,"x2":820,"y2":838,"s":0.02},{"x":790,"y":848,"x2":786,"y2":853,"s":0.03},{"x":750,"y":865,"x2":755,"y2":863,"s":0.03},{"x":715,"y":875,"x2":710,"y2":882,"s":0.03},
{"x":985,"y":845,"x2":978,"y2":832,"s":0.06},{"x":955,"y":845,"x2":950,"y2":840,"s":0.02},{"x":915,"y":850,"x2":920,"y2":850,"s":0.02},{"x":880,"y":848,"x2":890,"y2":845,"s":0.03},{"x":835,"y":858,"x2":848,"y2":855,"s":0.05},{"x":790,"y":865,"x2":803,"y2":863,"s":0.06},{"x":745,"y":870,"x2":760,"y2":868,"s":0.06},
{"x":1000,"y":870,"x2":992,"y2":858,"s":0.06},{"x":970,"y":870,"x2":965,"y2":862,"s":0.02},{"x":930,"y":875,"x2":935,"y2":875,"s":0.02},{"x":885,"y":870,"x2":898,"y2":868,"s":0.03},{"x":840,"y":875,"x2":855,"y2":875,"s":0.05},{"x":800,"y":878,"x2":815,"y2":878,"s":0.06},{"x":760,"y":880,"x2":775,"y2":882,"s":0.06},
{"x":985,"y":890,"x2":982,"y2":885,"s":0.02},{"x":950,"y":885,"x2":955,"y2":885,"s":0.02},{"x":905,"y":885,"x2":920,"y2":886,"s":0.05},{"x":860,"y":887,"x2":877,"y2":888,"s":0.06},{"x":815,"y":888,"x2":833,"y2":889,"s":0.08},
{"x":925,"y":895,"x2":945,"y2":896,"s":0.09},{"x":880,"y":893,"x2":900,"y2":894,"s":0.09},{"x":835,"y":893,"x2":857,"y2":893,"s":0.08},{"x":810,"y":897,"x2":830,"y2":896,"s":0.08},
{"x":1038,"y":883,"x2":1025,"y2":860,"s":0.15},{"x":1025,"y":860,"x2":1012,"y2":833,"s":0.18},{"x":1012,"y":833,"x2":1003,"y2":803,"s":0.2},{"x":1003,"y":803,"x2":995,"y2":770,"s":0.2},{"x":995,"y":770,"x2":997,"y2":750,"s":0.2},{"x":997,"y":750,"x2":1003,"y2":733,"s":0.2},{"x":1003,"y":733,"x2":1015,"y2":720,"s":0.2},{"x":1015,"y":720,"x2":1025,"y2":705,"s":0.2},
{"x":1058,"y":880,"x2":1042,"y2":857,"s":0.11},{"x":1042,"y":857,"x2":1028,"y2":830,"s":0.15},{"x":1028,"y":830,"x2":1018,"y2":800,"s":0.18},{"x":1018,"y":800,"x2":1012,"y2":777,"s":0.2},{"x":1012,"y":777,"x2":1015,"y2":750,"s":0.2},{"x":1015,"y":750,"x2":1025,"y2":730,"s":0.2},{"x":1025,"y":730,"x2":1042,"y2":713,"s":0.18},
{"x":1065,"y":850,"x2":1045,"y2":820,"s":0.11},{"x":1045,"y":820,"x2":1032,"y2":793,"s":0.14},{"x":1032,"y":793,"x2":1028,"y2":767,"s":0.15},{"x":1028,"y":767,"x2":1038,"y2":743,"s":0.15},{"x":1038,"y":743,"x2":1055,"y2":727,"s":0.17},{"x":1055,"y":727,"x2":1075,"y2":713,"s":0.18},{"x":1075,"y":713,"x2":1095,"y2":712,"s":0.2},
{"x":1065,"y":817,"x2":1045,"y2":787,"s":0.09},{"x":1045,"y":787,"x2":1038,"y2":760,"s":0.11},{"x":1038,"y":760,"x2":1052,"y2":737,"s":0.12},{"x":1052,"y":737,"x2":1075,"y2":720,"s":0.15},
{"x":1058,"y":763,"x2":1055,"y2":750,"s":0.08},{"x":1067,"y":781,"x2":1058,"y2":778,"s":0.06},{"x":1065,"y":795,"x2":1058,"y2":790,"s":0.06},{"x":1068,"y":860,"x2":1050,"y2":840,"s":0.09},{"x":1068,"y":880,"x2":1060,"y2":870,"s":0.08},{"x":1068,"y":905,"x2":1055,"y2":900,"s":0.06},{"x":1020,"y":890,"x2":1012,"y2":880,"s":0.06},{"x":1040,"y":905,"x2":1028,"y2":895,"s":0.06},{"x":1000,"y":880,"x2":995,"y2":875,"s":0.03},
{"x":962,"y":898,"x2":985,"y2":908,"s":0.15},{"x":985,"y":908,"x2":1008,"y2":923,"s":0.14},{"x":1008,"y":923,"x2":1035,"y2":937,"s":0.14},{"x":1035,"y":937,"x2":1062,"y2":945,"s":0.12},{"x":1062,"y":945,"x2":1082,"y2":948,"s":0.11},
{"x":968,"y":903,"x2":992,"y2":917,"s":0.12},{"x":992,"y":917,"x2":1015,"y2":933,"s":0.11},{"x":1015,"y":933,"x2":1042,"y2":948,"s":0.09},{"x":1042,"y":948,"x2":1072,"y2":952,"s":0.08},
{"x":975,"y":897,"x2":1002,"y2":907,"s":0.14},{"x":1002,"y":907,"x2":1025,"y2":920,"s":0.15},{"x":1025,"y":920,"x2":1048,"y2":933,"s":0.14},{"x":1048,"y":933,"x2":1082,"y2":936,"s":0.11},
{"x":688,"y":785,"x2":688,"y2":808,"s":0.14},{"x":686,"y":820,"x2":686,"y2":845,"s":0.21},{"x":686,"y":845,"x2":686,"y2":860,"s":0.21},{"x":691,"y":860,"x2":691,"y2":880,"s":0.17},{"x":689,"y":880,"x2":689,"y2":905,"s":0.2},{"x":688,"y":905,"x2":688,"y2":925,"s":0.21},{"x":687,"y":925,"x2":687,"y2":938,"s":0.21},{"x":688,"y":940,"x2":688,"y2":968,"s":0.2},
{"x":695,"y":935,"x2":712,"y2":952,"s":0.09},{"x":712,"y":945,"x2":735,"y2":950,"s":0.12},{"x":725,"y":950,"x2":750,"y2":952,"s":0.17},{"x":740,"y":952,"x2":765,"y2":953,"s":0.2},
{"x":775,"y":895,"x2":790,"y2":883,"s":0.09},{"x":768,"y":910,"x2":782,"y2":892,"s":0.09},{"x":772,"y":925,"x2":778,"y2":908,"s":0.09},{"x":755,"y":935,"x2":765,"y2":920,"s":0.08},{"x":770,"y":945,"x2":778,"y2":932,"s":0.08},{"x":745,"y":945,"x2":765,"y2":938,"s":0.08},{"x":740,"y":930,"x2":748,"y2":925,"s":0.05},{"x":715,"y":910,"x2":722,"y2":922,"s":0.03},{"x":730,"y":900,"x2":735,"y2":910,"s":0.03},{"x":750,"y":905,"x2":752,"y2":912,"s":0.02},
{"x":801,"y":904,"x2":956,"y2":904,"s":0.02},{"x":801,"y":903,"x2":956,"y2":903,"s":0.05},{"x":832,"y":898,"x2":815,"y2":903,"s":0.03},{"x":828,"y":901,"x2":812,"y2":904,"s":0.03},{"x":801,"y":893,"x2":801,"y2":903,"s":0.05},{"x":956,"y":893,"x2":956,"y2":903,"s":0.05},{"x":860,"y":900,"x2":880,"y2":899,"s":0.09},{"x":900,"y":900,"x2":920,"y2":899,"s":0.09},{"x":935,"y":900,"x2":955,"y2":900,"s":0.11},
{"x":985,"y":925,"x2":990,"y2":945,"s":0.03},{"x":980,"y":950,"x2":1000,"y2":957,"s":0.03},{"x":1000,"y":940,"x2":1010,"y2":950,"s":0.05},{"x":1030,"y":950,"x2":1045,"y2":957,"s":0.05},

{"x":1030,"y":1022,"x2":1015,"y2":1021,"s":0.06},{"x":985,"y":1023,"x2":970,"y2":1024,"s":0.06},{"x":940,"y":1025,"x2":925,"y2":1026,"s":0.06},{"x":895,"y":1027,"x2":880,"y2":1028,"s":0.05},{"x":850,"y":1029,"x2":835,"y2":1030,"s":0.05},{"x":805,"y":1031,"x2":790,"y2":1032,"s":0.05},{"x":760,"y":1034,"x2":746,"y2":1036,"s":0.05},{"x":715,"y":1040,"x2":702,"y2":1047,"s":0.05},
{"x":1050,"y":1040,"x2":1042,"y2":1030,"s":0.06},{"x":1005,"y":1040,"x2":992,"y2":1040,"s":0.05},{"x":955,"y":1042,"x2":942,"y2":1042,"s":0.05},{"x":905,"y":1044,"x2":892,"y2":1045,"s":0.05},{"x":855,"y":1047,"x2":842,"y2":1048,"s":0.05},{"x":805,"y":1049,"x2":793,"y2":1051,"s":0.05},{"x":755,"y":1054,"x2":743,"y2":1058,"s":0.05},{"x":715,"y":1070,"x2":706,"y2":1082,"s":0.05},
{"x":1062,"y":1070,"x2":1058,"y2":1052,"s":0.08},{"x":1030,"y":1060,"x2":1022,"y2":1052,"s":0.06},{"x":985,"y":1058,"x2":973,"y2":1058,"s":0.05},{"x":930,"y":1060,"x2":918,"y2":1061,"s":0.03},{"x":880,"y":1063,"x2":868,"y2":1064,"s":0.03},{"x":830,"y":1067,"x2":818,"y2":1069,"s":0.03},{"x":780,"y":1072,"x2":770,"y2":1077,"s":0.03},{"x":735,"y":1088,"x2":728,"y2":1098,"s":0.05},{"x":700,"y":1095,"x2":695,"y2":1112,"s":0.06},
{"x":1065,"y":1100,"x2":1064,"y2":1080,"s":0.08},{"x":1042,"y":1090,"x2":1038,"y2":1075,"s":0.06},{"x":1010,"y":1075,"x2":1002,"y2":1070,"s":0.05},{"x":955,"y":1077,"x2":947,"y2":1077,"s":0.03},{"x":900,"y":1080,"x2":892,"y2":1081,"s":0.02},{"x":850,"y":1085,"x2":842,"y2":1087,"s":0.02},{"x":800,"y":1092,"x2":793,"y2":1096,"s":0.02},{"x":755,"y":1105,"x2":749,"y2":1113,"s":0.03},{"x":720,"y":1120,"x2":715,"y2":1133,"s":0.05},{"x":693,"y":1130,"x2":690,"y2":1150,"s":0.09},
{"x":1066,"y":1130,"x2":1066,"y2":1110,"s":0.08},{"x":1045,"y":1120,"x2":1045,"y2":1105,"s":0.06},{"x":1020,"y":1105,"x2":1014,"y2":1097,"s":0.05},{"x":980,"y":1095,"x2":974,"y2":1094,"s":0.02},{"x":920,"y":1098,"x2":915,"y2":1099,"s":0.02},{"x":870,"y":1103,"x2":866,"y2":1104,"s":0.02},{"x":820,"y":1110,"x2":815,"y2":1113,"s":0.02},{"x":775,"y":1122,"x2":771,"y2":1128,"s":0.02},{"x":742,"y":1138,"x2":738,"y2":1146,"s":0.03},{"x":708,"y":1160,"x2":704,"y2":1172,"s":0.05},
{"x":1065,"y":1160,"x2":1067,"y2":1140,"s":0.08},{"x":1045,"y":1150,"x2":1047,"y2":1135,"s":0.06},{"x":1025,"y":1135,"x2":1024,"y2":1124,"s":0.05},{"x":995,"y":1122,"x2":994,"y2":1118,"s":0.02},{"x":950,"y":1118,"x2":955,"y2":1118,"s":0.02},{"x":895,"y":1123,"x2":900,"y2":1122,"s":0.02},{"x":840,"y":1130,"x2":835,"y2":1133,"s":0.02},{"x":795,"y":1140,"x2":792,"y2":1144,"s":0.02},{"x":760,"y":1155,"x2":757,"y2":1160,"s":0.02},{"x":730,"y":1170,"x2":727,"y2":1178,"s":0.03},{"x":698,"y":1190,"x2":694,"y2":1205,"s":0.06},
{"x":1055,"y":1180,"x2":1062,"y2":1165,"s":0.08},{"x":1030,"y":1165,"x2":1034,"y2":1152,"s":0.06},{"x":1005,"y":1150,"x2":1008,"y2":1143,"s":0.03},{"x":970,"y":1145,"x2":978,"y2":1144,"s":0.03},{"x":920,"y":1147,"x2":930,"y2":1146,"s":0.03},{"x":870,"y":1152,"x2":880,"y2":1151,"s":0.03},{"x":820,"y":1160,"x2":828,"y2":1158,"s":0.03},{"x":780,"y":1170,"x2":785,"y2":1168,"s":0.02},
{"x":1040,"y":1188,"x2":1052,"y2":1178,"s":0.08},{"x":1000,"y":1175,"x2":1014,"y2":1170,"s":0.06},{"x":960,"y":1170,"x2":975,"y2":1168,"s":0.05},{"x":910,"y":1172,"x2":926,"y2":1171,"s":0.05},{"x":860,"y":1175,"x2":876,"y2":1174,"s":0.05},{"x":815,"y":1180,"x2":830,"y2":1178,"s":0.05},
{"x":1020,"y":1195,"x2":1038,"y2":1190,"s":0.08},{"x":980,"y":1190,"x2":998,"y2":1188,"s":0.08},{"x":935,"y":1192,"x2":955,"y2":1190,"s":0.08},{"x":890,"y":1193,"x2":910,"y2":1192,"s":0.08},{"x":845,"y":1195,"x2":865,"y2":1194,"s":0.08},{"x":810,"y":1197,"x2":828,"y2":1196,"s":0.06},
{"x":990,"y":1200,"x2":1012,"y2":1198,"s":0.09},{"x":945,"y":1203,"x2":968,"y2":1201,"s":0.09},{"x":900,"y":1204,"x2":922,"y2":1203,"s":0.08},{"x":860,"y":1205,"x2":880,"y2":1204,"s":0.08},
{"x":687,"y":1150,"x2":687,"y2":1170,"s":0.12},{"x":687,"y":1175,"x2":687,"y2":1195,"s":0.14},{"x":691,"y":1195,"x2":691,"y2":1215,"s":0.15},{"x":690,"y":1218,"x2":690,"y2":1238,"s":0.15},{"x":689,"y":1240,"x2":689,"y2":1258,"s":0.15},
{"x":775,"y":1200,"x2":790,"y2":1188,"s":0.09},{"x":768,"y":1212,"x2":782,"y2":1196,"s":0.09},{"x":772,"y":1228,"x2":778,"y2":1212,"s":0.08},{"x":755,"y":1240,"x2":765,"y2":1225,"s":0.06},{"x":740,"y":1245,"x2":748,"y2":1240,"s":0.05},{"x":770,"y":1250,"x2":778,"y2":1240,"s":0.06},{"x":710,"y":1215,"x2":720,"y2":1228,"s":0.03},{"x":730,"y":1210,"x2":735,"y2":1220,"s":0.03},{"x":750,"y":1200,"x2":753,"y2":1208,"s":0.02},{"x":700,"y":1240,"x2":716,"y2":1255,"s":0.08},{"x":716,"y":1252,"x2":735,"y2":1257,"s":0.11},
{"x":801,"y":1209,"x2":956,"y2":1209,"s":0.02},{"x":801,"y":1208,"x2":956,"y2":1208,"s":0.05},{"x":832,"y":1203,"x2":815,"y2":1208,"s":0.03},{"x":828,"y":1206,"x2":812,"y2":1209,"s":0.03},{"x":801,"y":1198,"x2":801,"y2":1208,"s":0.05},{"x":956,"y":1198,"x2":956,"y2":1208,"s":0.05},{"x":935,"y":1205,"x2":955,"y2":1203,"s":0.08},
{"x":1000,"y":1210,"x2":1018,"y2":1209,"s":0.05},{"x":1035,"y":1212,"x2":1050,"y2":1215,"s":0.05},{"x":1060,"y":1225,"x2":1063,"y2":1240,"s":0.05},{"x":985,"y":1235,"x2":982,"y2":1225,"s":0.02},{"x":1010,"y":1225,"x2":1020,"y2":1222,"s":0.02},{"x":1040,"y":1232,"x2":1045,"y2":1240,"s":0.02},{"x":1000,"y":1250,"x2":995,"y2":1243,"s":0.02},{"x":1030,"y":1255,"x2":1015,"y2":1256,"s":0.03}
]
},
"layer":[
{"data":{"name":"polys"},
 "transform":[{"flatten":["x","y"]},{"window":[{"op":"row_number","as":"i"}]}],
 "mark":{"type":"line","interpolate":"linear-closed","strokeWidth":0,"filled":true},
 "encoding":{
  "x":{"field":"x","type":"quantitative","scale":{"domain":[0,1097],"nice":false,"zero":false},"axis":null},
  "y":{"field":"y","type":"quantitative","scale":{"domain":[1260,0],"nice":false,"zero":false},"axis":null},
  "detail":{"field":"s"},
  "order":{"field":"i","type":"quantitative"},
  "fill":{"field":"ppm","type":"quantitative","legend":null,"scale":{"type":"threshold","domain":[220,340,460,580,700,820,940,1060,1180,1300,1420,1540,1660,1780,1900,2020,2140,2260,2380],"range":["#0000ff","#0066ff","#0099ff","#00bfff","#00e5ff","#00ffff","#00ffcc","#00ff99","#00ff66","#00ff00","#80ff00","#aaff00","#d4ff00","#ffff00","#ffe600","#ffcc00","#ffaa00","#ff8800","#ff6600","#ff0000"]}}
 }},
{"data":{"name":"outlines"},
 "transform":[{"flatten":["x","y"]},{"window":[{"op":"row_number","as":"i"}]}],
 "mark":{"type":"line","interpolate":"linear-closed","stroke":"#bdbdbd","strokeWidth":1.1},
 "encoding":{
  "x":{"field":"x","type":"quantitative","axis":null},
  "y":{"field":"y","type":"quantitative","axis":null},
  "detail":{"field":"s"},
  "order":{"field":"i","type":"quantitative"}
 }},
{"data":{"name":"vec"},
 "mark":{"type":"rule","strokeWidth":0.8,"opacity":0.75},
 "encoding":{
  "x":{"field":"x","type":"quantitative","axis":null},
  "y":{"field":"y","type":"quantitative","axis":null},
  "x2":{"field":"x2"},"y2":{"field":"y2"},
  "color":{"field":"s","type":"quantitative","legend":null,"scale":{"type":"threshold","domain":[0.02,0.03,0.05,0.06,0.08,0.09,0.11,0.12,0.14,0.15,0.17,0.18,0.2,0.21,0.23,0.24,0.25,0.27,0.29],"range":["#0000ff","#5577ff","#66aaff","#33c8ff","#22e5ff","#00ffff","#00ffcc","#00ff99","#00ff66","#00ff00","#80ff00","#aaff00","#d4ff00","#ffff00","#ffe600","#ffcc00","#ffaa00","#ff8800","#ff6600","#ff0000"]}}
 }},
{"data":{"name":"vec"},
 "mark":{"type":"point","filled":true,"size":5,"opacity":0.8},
 "encoding":{
  "x":{"field":"x2","type":"quantitative","axis":null},
  "y":{"field":"y2","type":"quantitative","axis":null},
  "color":{"field":"s","type":"quantitative","legend":null,"scale":{"type":"threshold","domain":[0.02,0.03,0.05,0.06,0.08,0.09,0.11,0.12,0.14,0.15,0.17,0.18,0.2,0.21,0.23,0.24,0.25,0.27,0.29],"range":["#0000ff","#5577ff","#66aaff","#33c8ff","#22e5ff","#00ffff","#00ffcc","#00ff99","#00ff66","#00ff00","#80ff00","#aaff00","#d4ff00","#ffff00","#ffe600","#ffcc00","#ffaa00","#ff8800","#ff6600","#ff0000"]}}
 }},
{"data":{"name":"bar1"},
 "mark":{"type":"rect"},
 "encoding":{
  "x":{"datum":8,"type":"quantitative","axis":null},"x2":{"datum":42.5},
  "y":{"field":"y","type":"quantitative","axis":null},"y2":{"field":"y2"},
  "fill":{"field":"lo","type":"quantitative","legend":null,"scale":{"type":"threshold","domain":[220,340,460,580,700,820,940,1060,1180,1300,1420,1540,1660,1780,1900,2020,2140,2260,2380],"range":["#0000ff","#0066ff","#0099ff","#00bfff","#00e5ff","#00ffff","#00ffcc","#00ff99","#00ff66","#00ff00","#80ff00","#aaff00","#d4ff00","#ffff00","#ffe600","#ffcc00","#ffaa00","#ff8800","#ff6600","#ff0000"]}}
 }},
{"data":{"name":"bar2"},
 "mark":{"type":"rect"},
 "encoding":{
  "x":{"datum":552,"type":"quantitative","axis":null},"x2":{"datum":589},
  "y":{"field":"y","type":"quantitative","axis":null},"y2":{"field":"y2"},
  "fill":{"field":"lo","type":"quantitative","legend":null,"scale":{"type":"threshold","domain":[220,340,460,580,700,820,940,1060,1180,1300,1420,1540,1660,1780,1900,2020,2140,2260,2380],"range":["#0000ff","#0066ff","#0099ff","#00bfff","#00e5ff","#00ffff","#00ffcc","#00ff99","#00ff66","#00ff00","#80ff00","#aaff00","#d4ff00","#ffff00","#ffe600","#ffcc00","#ffaa00","#ff8800","#ff6600","#ff0000"]}}
 }},
{"data":{"values":[
 {"t":"Mapy stężenia CO₂","x":187,"y":38},
 {"t":"Mapy wektorów prędkości","x":679,"y":38}]},
 "mark":{"type":"text","align":"left","baseline":"alphabetic","font":"Liberation Sans","fontWeight":"bold","fontSize":31.3,"color":"#000"},
 "encoding":{"x":{"field":"x","type":"quantitative","axis":null},"y":{"field":"y","type":"quantitative","axis":null},"text":{"field":"t"}}},
{"data":{"values":[{"x":187,"x2":467,"y":41.5},{"x":679,"x2":1069,"y":41.5}]},
 "mark":{"type":"rule","strokeWidth":2.2,"color":"#000"},
 "encoding":{"x":{"field":"x","type":"quantitative","axis":null},"x2":{"field":"x2"},"y":{"field":"y","type":"quantitative","axis":null}}},
{"data":{"values":[
 {"t":"Wariant obliczeń 6","x":157,"y":85},{"t":"Wariant obliczeń 6","x":699,"y":85},
 {"t":"Wariant obliczeń 7","x":153,"y":390},{"t":"Wariant obliczeń 7","x":699,"y":390},
 {"t":"Wariant obliczeń 8","x":157,"y":695},{"t":"Wariant obliczeń 8","x":699,"y":695},
 {"t":"Wariant obliczeń 9","x":160,"y":1000},{"t":"Wariant obliczeń 9","x":699,"y":997},
 {"t":"ppm","x":17,"y":384},{"t":"m/s","x":570,"y":390}]},
 "mark":{"type":"text","align":"left","baseline":"alphabetic","font":"Liberation Serif","fontSize":31.6,"color":"#000"},
 "encoding":{"x":{"field":"x","type":"quantitative","axis":null},"y":{"field":"y","type":"quantitative","axis":null},"text":{"field":"t"}}},
{"data":{"values":[
 {"t":"2500","x":58,"y":415},{"t":"2380","x":58,"y":445},{"t":"2260","x":58,"y":475},{"t":"2140","x":58,"y":505},{"t":"2020","x":58,"y":535},{"t":"1900","x":58,"y":565.5},{"t":"1780","x":58,"y":595.5},{"t":"1660","x":58,"y":625.5},{"t":"1540","x":58,"y":655.5},{"t":"1420","x":58,"y":685.5},{"t":"1300","x":58,"y":716},{"t":"1180","x":58,"y":746},{"t":"1060","x":58,"y":776},{"t":"940","x":58,"y":806},{"t":"820","x":58,"y":836},{"t":"700","x":58,"y":866},{"t":"580","x":58,"y":896},{"t":"460","x":58,"y":926},{"t":"340","x":58,"y":956},{"t":"220","x":58,"y":986},{"t":"100","x":58,"y":1016},
 {"t":"0.30","x":606,"y":412.5},{"t":"0.29","x":606,"y":442.5},{"t":"0.27","x":606,"y":472.5},{"t":"0.25","x":606,"y":502.5},{"t":"0.24","x":606,"y":532.5},{"t":"0.23","x":606,"y":562.5},{"t":"0.21","x":606,"y":592.5},{"t":"0.20","x":606,"y":622.5},{"t":"0.18","x":606,"y":652.5},{"t":"0.17","x":606,"y":683},{"t":"0.15","x":606,"y":713},{"t":"0.14","x":606,"y":743},{"t":"0.12","x":606,"y":773},{"t":"0.11","x":606,"y":803},{"t":"0.09","x":606,"y":833},{"t":"0.08","x":606,"y":863},{"t":"0.06","x":606,"y":893},{"t":"0.05","x":606,"y":923},{"t":"0.03","x":606,"y":953},{"t":"0.02","x":606,"y":983},{"t":"0.00","x":606,"y":1013.5}]},
 "mark":{"type":"text","align":"left","baseline":"middle","font":"Liberation Sans","fontSize":20.5,"color":"#111"},
 "encoding":{"x":{"field":"x","type":"quantitative","axis":null},"y":{"field":"y","type":"quantitative","axis":null},"text":{"field":"t"}}}
],
"resolve":{"scale":{"fill":"independent","color":"independent"}}
}
